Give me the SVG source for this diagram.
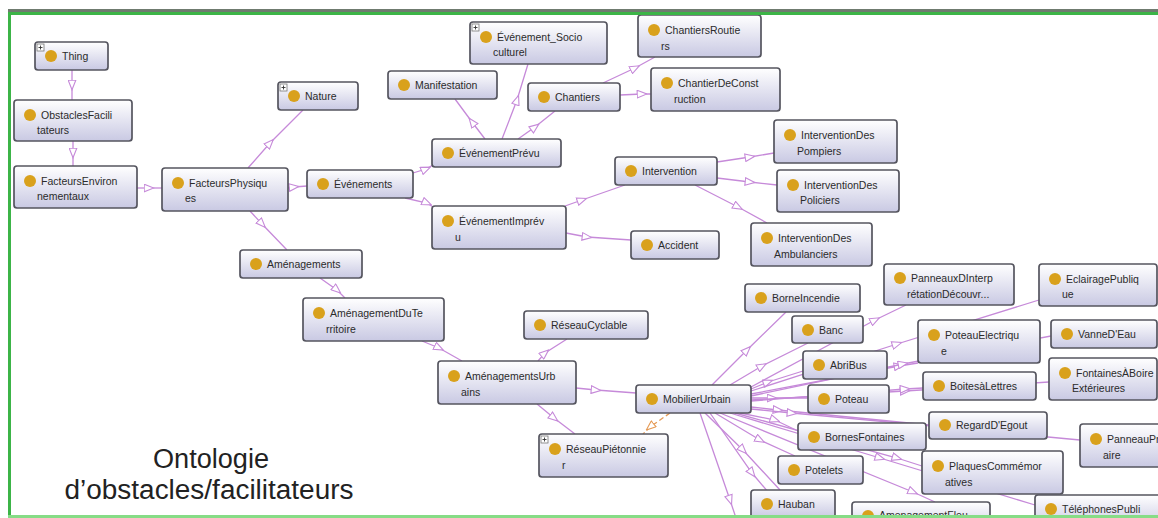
<svg xmlns="http://www.w3.org/2000/svg" width="1158" height="518" viewBox="0 0 1158 518">
<style>
  .box{fill:url(#boxg);stroke:#55555f;stroke-width:1.7}
  .dot{fill:#d9a11c}
  .lbl{font-family:"Liberation Sans",Arial,sans-serif;font-size:10.5px;fill:#2b2b2b}
  .plus{fill:#fff;stroke:#777;stroke-width:0.8}
  .plusl{stroke:#333;stroke-width:0.9}
  .e{fill:none;stroke:#c68ad9;stroke-width:1.3;marker-mid:url(#tri)}
  .eo{fill:none;stroke:#e59a55;stroke-width:1.3;stroke-dasharray:5 3;marker-mid:url(#trio)}
  .cap{font-family:"Liberation Sans",Arial,sans-serif;font-size:27px;fill:#222}
</style>
<defs>
  <linearGradient id="boxg" x1="0" y1="0" x2="0" y2="1">
    <stop offset="0" stop-color="#ffffff"/>
    <stop offset="1" stop-color="#c9c9e3"/>
  </linearGradient>
  <marker id="tri" viewBox="0 0 11 9" refX="5.5" refY="4.5" markerWidth="11" markerHeight="9" markerUnits="userSpaceOnUse" orient="auto">
    <path d="M0.7,0.7 L10.3,4.5 L0.7,8.3 Z" fill="#fff" stroke="#c68ad9" stroke-width="1.1"/>
  </marker>
  <marker id="trio" viewBox="0 0 11 9" refX="5.5" refY="4.5" markerWidth="11" markerHeight="9" markerUnits="userSpaceOnUse" orient="auto">
    <path d="M0.7,0.7 L10.3,4.5 L0.7,8.3 Z" fill="#fff" stroke="#e59a55" stroke-width="1.1"/>
  </marker>
</defs>

<rect x="0" y="0" width="1158" height="518" fill="#fff"/>

<!-- subclass connectors -->
<g id="connectors">
  <polyline class="e" points="72,70 72,85 72,100"/>
  <polyline class="e" points="73,141 73,153 73,166"/>
  <polyline class="e" points="137,188 149,188 162,188"/>
  <polyline class="e" points="248,168 270,143 303,110"/>
  <polyline class="e" points="288,188 294,187 307,186"/>
  <polyline class="e" points="250,211 262,224 287,250"/>
  <polyline class="e" points="413,173 426,169 433,165"/>
  <polyline class="e" points="405,198 427,203 433,207"/>
  <polyline class="e" points="485,139 472,122 455,99"/>
  <polyline class="e" points="502,139 517,100 528,64"/>
  <polyline class="e" points="518,139 535,127 555,111"/>
  <polyline class="e" points="603,83 635,68 655,57"/>
  <polyline class="e" points="620,95 642,94 651,94"/>
  <polyline class="e" points="565,206 582,200 625,185"/>
  <polyline class="e" points="566,233 587,237 631,240"/>
  <polyline class="e" points="717,162 750,157 774,153"/>
  <polyline class="e" points="717,178 750,182 777,185"/>
  <polyline class="e" points="695,185 738,207 767,223"/>
  <polyline class="e" points="320,278 337,290 345,298"/>
  <polyline class="e" points="422,341 439,348 462,361"/>
  <polyline class="e" points="538,361 545,353 567,339"/>
  <polyline class="e" points="576,388 596,390 636,393"/>
  <polyline class="e" points="537,404 554,418 575,434"/>
  <polyline class="eo" points="670,413 650,427 643,434"/>
  <!-- MobilierUrbain fan-out -->
  <polyline class="e" points="712,385 747,350 786,312"/>
  <polyline class="e" points="730,385 762,366 808,343"/>
  <polyline class="e" points="751,389 768,382 803,371"/>
  <polyline class="e" points="751,398 772,398 808,398"/>
  <polyline class="e" points="751,387 875,320 906,305"/>
  <polyline class="e" points="751,391 897,344 1039,300"/>
  <polyline class="e" points="751,394 899,366 918,363"/>
  <polyline class="e" points="751,396 903,364 1051,336"/>
  <polyline class="e" points="751,400 905,391 1049,382"/>
  <polyline class="e" points="751,401 905,389 923,388"/>
  <polyline class="e" points="751,407 778,410 929,425"/>
  <polyline class="e" points="751,409 792,413 1080,440"/>
  <polyline class="e" points="740,413 775,420 798,431"/>
  <polyline class="e" points="735,413 897,458 922,466"/>
  <polyline class="e" points="730,413 880,458 1035,505"/>
  <polyline class="e" points="720,413 913,492 935,502"/>
  <polyline class="e" points="715,413 760,440 795,456"/>
  <polyline class="e" points="705,413 743,450 780,490"/>
  <polyline class="e" points="710,413 752,473 790,518"/>
  <polyline class="e" points="700,413 730,500 736,518"/>
</g>

<!-- class nodes -->
<g id="n-thing"><rect class="box" x="35" y="42" width="73" height="28" rx="3"/><rect class="plus" x="37" y="44" width="7" height="7"/><line class="plusl" x1="38.5" y1="47.5" x2="42.5" y2="47.5"/><line class="plusl" x1="40.5" y1="45.5" x2="40.5" y2="49.5"/><circle class="dot" cx="51" cy="56" r="6"/><text class="lbl" x="62" y="60">Thing</text></g>
<g id="n-obstaclesfacilitateurs"><rect class="box" x="14" y="100" width="118" height="41" rx="3"/><circle class="dot" cx="30" cy="115" r="6"/><text class="lbl" x="41" y="119">ObstaclesFacili</text><text class="lbl" x="37" y="134">tateurs</text></g>
<g id="n-facteursenvironnementaux"><rect class="box" x="14" y="166" width="123" height="42" rx="3"/><circle class="dot" cx="30" cy="181" r="6"/><text class="lbl" x="41" y="185">FacteursEnviron</text><text class="lbl" x="37" y="200">nementaux</text></g>
<g id="n-facteursphysiques"><rect class="box" x="162" y="168" width="126" height="43" rx="3"/><circle class="dot" cx="178" cy="183" r="6"/><text class="lbl" x="189" y="187">FacteursPhysiqu</text><text class="lbl" x="185" y="202">es</text></g>
<g id="n-nature"><rect class="box" x="278" y="82" width="80" height="28" rx="3"/><rect class="plus" x="280" y="84" width="7" height="7"/><line class="plusl" x1="281.5" y1="87.5" x2="285.5" y2="87.5"/><line class="plusl" x1="283.5" y1="85.5" x2="283.5" y2="89.5"/><circle class="dot" cx="294" cy="96" r="6"/><text class="lbl" x="305" y="100">Nature</text></g>
<g id="n-evenements"><rect class="box" x="307" y="170" width="106" height="28" rx="3"/><circle class="dot" cx="323" cy="184" r="6"/><text class="lbl" x="334" y="188">Événements</text></g>
<g id="n-manifestation"><rect class="box" x="388" y="71" width="109" height="28" rx="3"/><circle class="dot" cx="404" cy="85" r="6"/><text class="lbl" x="415" y="89">Manifestation</text></g>
<g id="n-evenement-socioculturel"><rect class="box" x="470" y="22" width="137" height="42" rx="3"/><rect class="plus" x="472" y="24" width="7" height="7"/><line class="plusl" x1="473.5" y1="27.5" x2="477.5" y2="27.5"/><line class="plusl" x1="475.5" y1="25.5" x2="475.5" y2="29.5"/><circle class="dot" cx="486" cy="37" r="6"/><text class="lbl" x="497" y="41">Événement_Socio</text><text class="lbl" x="493" y="56">culturel</text></g>
<g id="n-chantiersroutiers"><rect class="box" x="638" y="15" width="123" height="42" rx="3"/><circle class="dot" cx="654" cy="30" r="6"/><text class="lbl" x="665" y="34">ChantiersRoutie</text><text class="lbl" x="661" y="50">rs</text></g>
<g id="n-chantiers"><rect class="box" x="528" y="83" width="92" height="28" rx="3"/><circle class="dot" cx="544" cy="97" r="6"/><text class="lbl" x="555" y="101">Chantiers</text></g>
<g id="n-chantierdeconstruction"><rect class="box" x="651" y="68" width="129" height="43" rx="3"/><circle class="dot" cx="667" cy="83" r="6"/><text class="lbl" x="678" y="87">ChantierDeConst</text><text class="lbl" x="674" y="103">ruction</text></g>
<g id="n-evenementprevu"><rect class="box" x="432" y="139" width="129" height="28" rx="3"/><circle class="dot" cx="448" cy="153" r="6"/><text class="lbl" x="459" y="157">ÉvénementPrévu</text></g>
<g id="n-evenementimprevu"><rect class="box" x="432" y="206" width="134" height="43" rx="3"/><circle class="dot" cx="448" cy="221" r="6"/><text class="lbl" x="459" y="225">ÉvénementImprév</text><text class="lbl" x="455" y="241">u</text></g>
<g id="n-intervention"><rect class="box" x="615" y="157" width="102" height="28" rx="3"/><circle class="dot" cx="631" cy="171" r="6"/><text class="lbl" x="642" y="175">Intervention</text></g>
<g id="n-interventiondespompiers"><rect class="box" x="774" y="120" width="123" height="43" rx="3"/><circle class="dot" cx="790" cy="135" r="6"/><text class="lbl" x="801" y="139">InterventionDes</text><text class="lbl" x="797" y="155">Pompiers</text></g>
<g id="n-interventiondespoliciers"><rect class="box" x="777" y="170" width="122" height="42" rx="3"/><circle class="dot" cx="793" cy="185" r="6"/><text class="lbl" x="804" y="189">InterventionDes</text><text class="lbl" x="800" y="204">Policiers</text></g>
<g id="n-interventiondesambulanciers"><rect class="box" x="751" y="223" width="121" height="43" rx="3"/><circle class="dot" cx="767" cy="238" r="6"/><text class="lbl" x="778" y="242">InterventionDes</text><text class="lbl" x="774" y="258">Ambulanciers</text></g>
<g id="n-accident"><rect class="box" x="631" y="231" width="88" height="28" rx="3"/><circle class="dot" cx="647" cy="245" r="6"/><text class="lbl" x="658" y="249">Accident</text></g>
<g id="n-amenagements"><rect class="box" x="240" y="250" width="122" height="28" rx="3"/><circle class="dot" cx="256" cy="264" r="6"/><text class="lbl" x="267" y="268">Aménagements</text></g>
<g id="n-amenagementduterritoire"><rect class="box" x="303" y="298" width="141" height="43" rx="3"/><circle class="dot" cx="319" cy="313" r="6"/><text class="lbl" x="330" y="317">AménagementDuTe</text><text class="lbl" x="326" y="333">rritoire</text></g>
<g id="n-reseaucyclable"><rect class="box" x="524" y="311" width="124" height="28" rx="3"/><circle class="dot" cx="540" cy="325" r="6"/><text class="lbl" x="551" y="329">RéseauCyclable</text></g>
<g id="n-amenagementsurbains"><rect class="box" x="438" y="361" width="138" height="43" rx="3"/><circle class="dot" cx="454" cy="376" r="6"/><text class="lbl" x="465" y="380">AménagementsUrb</text><text class="lbl" x="461" y="396">ains</text></g>
<g id="n-reseaupietonnier"><rect class="box" x="539" y="434" width="129" height="43" rx="3"/><rect class="plus" x="541" y="436" width="7" height="7"/><line class="plusl" x1="542.5" y1="439.5" x2="546.5" y2="439.5"/><line class="plusl" x1="544.5" y1="437.5" x2="544.5" y2="441.5"/><circle class="dot" cx="555" cy="449" r="6"/><text class="lbl" x="566" y="453">RéseauPiétonnie</text><text class="lbl" x="562" y="469">r</text></g>
<g id="n-mobilierurbain"><rect class="box" x="636" y="385" width="115" height="28" rx="3"/><circle class="dot" cx="652" cy="399" r="6"/><text class="lbl" x="663" y="403">MobilierUrbain</text></g>
<g id="n-borneincendie"><rect class="box" x="745" y="284" width="115" height="28" rx="3"/><circle class="dot" cx="761" cy="298" r="6"/><text class="lbl" x="772" y="302">BorneIncendie</text></g>
<g id="n-banc"><rect class="box" x="792" y="316" width="71" height="27" rx="3"/><circle class="dot" cx="808" cy="330" r="6"/><text class="lbl" x="819" y="334">Banc</text></g>
<g id="n-abribus"><rect class="box" x="803" y="351" width="84" height="28" rx="3"/><circle class="dot" cx="819" cy="365" r="6"/><text class="lbl" x="830" y="369">AbriBus</text></g>
<g id="n-poteau"><rect class="box" x="808" y="385" width="81" height="28" rx="3"/><circle class="dot" cx="824" cy="399" r="6"/><text class="lbl" x="835" y="403">Poteau</text></g>
<g id="n-bornesfontaines"><rect class="box" x="798" y="423" width="128" height="27" rx="3"/><circle class="dot" cx="814" cy="437" r="6"/><text class="lbl" x="825" y="441">BornesFontaines</text></g>
<g id="n-potelets"><rect class="box" x="778" y="456" width="85" height="28" rx="3"/><circle class="dot" cx="794" cy="470" r="6"/><text class="lbl" x="805" y="474">Potelets</text></g>
<g id="n-hauban"><rect class="box" x="751" y="490" width="84" height="28" rx="3"/><circle class="dot" cx="767" cy="504" r="6"/><text class="lbl" x="778" y="508">Hauban</text></g>
<g id="n-amenagementfleu"><rect class="box" x="852" y="502" width="138" height="30" rx="3"/><circle class="dot" cx="868" cy="516" r="6"/><text class="lbl" x="879" y="519">AmenagementFleu</text></g>
<g id="n-panneauxdinterpretation"><rect class="box" x="884" y="264" width="130" height="41" rx="3"/><circle class="dot" cx="900" cy="278" r="6"/><text class="lbl" x="911" y="282">PanneauxDInterp</text><text class="lbl" x="907" y="298" font-size="9.5">rétationDécouvr...</text></g>
<g id="n-eclairagepublique"><rect class="box" x="1039" y="264" width="118" height="42" rx="3"/><circle class="dot" cx="1055" cy="279" r="6"/><text class="lbl" x="1066" y="283">EclairagePubliq</text><text class="lbl" x="1062" y="298">ue</text></g>
<g id="n-poteauelectrique"><rect class="box" x="918" y="320" width="122" height="43" rx="3"/><circle class="dot" cx="934" cy="335" r="6"/><text class="lbl" x="945" y="339">PoteauElectriqu</text><text class="lbl" x="941" y="355">e</text></g>
<g id="n-vannedeau"><rect class="box" x="1051" y="320" width="106" height="28" rx="3"/><circle class="dot" cx="1067" cy="334" r="6"/><text class="lbl" x="1078" y="338">VanneD'Eau</text></g>
<g id="n-fontainesaboire"><rect class="box" x="1049" y="358" width="108" height="42" rx="3"/><circle class="dot" cx="1065" cy="373" r="6"/><text class="lbl" x="1076" y="377">FontainesÀBoire</text><text class="lbl" x="1072" y="392">Extérieures</text></g>
<g id="n-boitesalettres"><rect class="box" x="923" y="372" width="113" height="28" rx="3"/><circle class="dot" cx="939" cy="386" r="6"/><text class="lbl" x="950" y="390">BoitesàLettres</text></g>
<g id="n-regarddegout"><rect class="box" x="929" y="412" width="118" height="27" rx="3"/><circle class="dot" cx="945" cy="425" r="6"/><text class="lbl" x="956" y="429">RegardD'Egout</text></g>
<g id="n-panneaupr"><rect class="box" x="1080" y="424" width="90" height="43" rx="3"/><circle class="dot" cx="1096" cy="439" r="6"/><text class="lbl" x="1107" y="443">PanneauPr</text><text class="lbl" x="1103" y="459">aire</text></g>
<g id="n-plaquescommemoratives"><rect class="box" x="922" y="451" width="141" height="43" rx="3"/><circle class="dot" cx="938" cy="466" r="6"/><text class="lbl" x="949" y="470">PlaquesCommémor</text><text class="lbl" x="945" y="486">atives</text></g>
<g id="n-telephonespubli"><rect class="box" x="1035" y="495" width="130" height="32" rx="3"/><circle class="dot" cx="1051" cy="509" r="6"/><text class="lbl" x="1062" y="513">TéléphonesPubli</text></g>

<!-- caption -->
<g id="caption">
  <text class="cap" x="211" y="468" text-anchor="middle" textLength="116" lengthAdjust="spacingAndGlyphs">Ontologie</text>
  <text class="cap" x="209" y="499" text-anchor="middle" textLength="289" lengthAdjust="spacingAndGlyphs">d’obstacles/facilitateurs</text>
</g>

<!-- slide frame -->
<g id="frame">
  <line x1="8" y1="10.5" x2="1158" y2="10.5" stroke="#6f7b6f" stroke-width="3"/>
  <line x1="8" y1="13.5" x2="1158" y2="13.5" stroke="#3cb447" stroke-width="3"/>
  <line x1="9.5" y1="12" x2="9.5" y2="518" stroke="#3cb447" stroke-width="3"/>
  <line x1="8" y1="516.5" x2="1158" y2="516.5" stroke="#86dc86" stroke-width="3"/>
</g>
</svg>
